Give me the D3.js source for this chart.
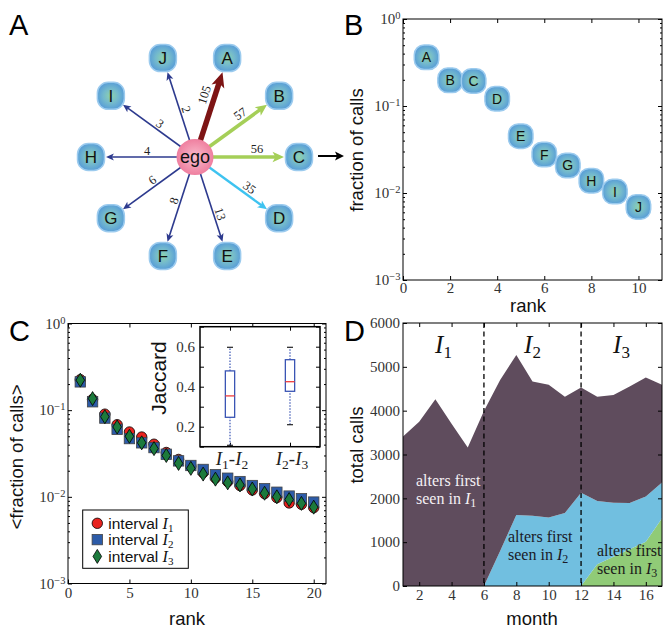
<!DOCTYPE html>
<html>
<head>
<meta charset="utf-8">
<script src="https://cdn.jsdelivr.net/npm/d3@7"></script>
<style>
body { margin: 0; background: #fff; }
svg { display: block; }
.ax .tick text { font-family: "Liberation Serif", serif; font-size: 15px; fill: #333; }
.ax .tick line { stroke: #000; }
.axlabel { font-family: "Liberation Sans", Arial, sans-serif; font-size: 18.5px; fill: #111; }
.panel { font-family: "Liberation Sans", Arial, sans-serif; font-size: 29px; fill: #000; }
</style>
</head>
<body>
<div id="fig"></div>
<script>
// ---- data ----
// panel A / B: alters of one ego, ranked by number of calls
var alters = ["A", "B", "C", "D", "E", "F", "G", "H", "I", "J"];
var alterCalls = [105, 57, 56, 35, 13, 8, 6, 4, 3, 2];

// panel C: mean fraction of calls by rank, three intervals
var ranks = d3.range(1, 21);
var fracI1 = [0.225, 0.133, 0.090, 0.068, 0.056, 0.049, 0.0405, 0.0325, 0.027, 0.0225,
              0.019, 0.0165, 0.015, 0.0135, 0.012, 0.0109, 0.0098, 0.0085, 0.0082, 0.0075];
var fracI2 = [0.212, 0.125, 0.081, 0.060, 0.047, 0.042, 0.037, 0.031, 0.026, 0.023,
              0.0207, 0.018, 0.0164, 0.015, 0.0135, 0.0124, 0.0113, 0.0102, 0.0095, 0.0087];
var fracI3 = [0.222, 0.136, 0.084, 0.064, 0.050, 0.042, 0.036, 0.030, 0.0243, 0.0213,
              0.0183, 0.016, 0.0145, 0.0137, 0.0123, 0.011, 0.010, 0.0093, 0.0084, 0.0076];

// inset: Jaccard box plots
var jacPairs = [["1", "2"], ["2", "3"]];
var jacLow = [0.107, 0.21];
var jacQ1 = [0.247, 0.377];
var jacMed = [0.354, 0.425];
var jacQ3 = [0.479, 0.535];
var jacHigh = [0.597, 0.597];

// panel D: monthly calls split by when the alter was first seen
var months = d3.range(1, 18);
var callsI1 = [3410, 3750, 4260, 3700, 3160, 3990, 3900, 3650, 3065, 3030, 2655, 2400, 2380, 2460, 2655, 2715, 2230];
var callsI2 = [0, 0, 0, 0, 0, 0, 800, 1620, 1600, 1560, 1665, 2130, 1445, 1230, 1055, 1030, 815];
var callsI3 = [0, 0, 0, 0, 0, 0, 0, 0, 0, 0, 0, 0, 495, 670, 840, 1010, 1545];
var intervalEdges = [1, 6, 12, 17];

// ---- figure ----
var W = 663, H = 629;
var svg = d3.select("#fig").append("svg").attr("width", W).attr("height", H);

var defs = svg.append("defs");
var ng = defs.append("radialGradient").attr("id", "nodeFill");
ng.append("stop").attr("offset", "0%").attr("stop-color", "#8fd3ac");
ng.append("stop").attr("offset", "55%").attr("stop-color", "#73b9cd");
ng.append("stop").attr("offset", "100%").attr("stop-color", "#5a9fd6");
var eg = defs.append("radialGradient").attr("id", "egoFill");
eg.append("stop").attr("offset", "0%").attr("stop-color", "#f9bccd");
eg.append("stop").attr("offset", "100%").attr("stop-color", "#ef7f9f");

var sans = '"Liberation Sans", Arial, sans-serif';
var serif = '"Liberation Serif", "Times New Roman", serif';

function panelLetter(t, x, y) {
  svg.append("text").attr("class", "panel").attr("x", x).attr("y", y).text(t);
}

// axes with inward ticks on all four sides
function drawAxes(xs, ys, o) {
  var xr = xs.range(), yr = ys.range();
  var g = svg.append("g");
  g.append("g").attr("class", "ax").attr("transform", "translate(0," + yr[0] + ")")
    .call(d3.axisBottom(xs).tickValues(o.xTicks).tickSizeInner(-4).tickSizeOuter(0)
      .tickPadding(o.xPad).tickFormat(o.xFmt || d3.format("d")));
  g.append("g").attr("class", "ax").attr("transform", "translate(0," + yr[1] + ")")
    .call(d3.axisTop(xs).tickValues(o.xTicks).tickSizeInner(-4).tickSizeOuter(0).tickFormat(""));
  var left = g.append("g").attr("class", "ax").attr("transform", "translate(" + xr[0] + ",0)")
    .call(d3.axisLeft(ys).tickValues(o.yTicks).tickSizeInner(-4).tickSizeOuter(0)
      .tickPadding(o.yPad).tickFormat(o.yFmt || d3.format("d")));
  g.append("g").attr("class", "ax").attr("transform", "translate(" + xr[1] + ",0)")
    .call(d3.axisRight(ys).tickValues(o.yTicks).tickSizeInner(-4).tickSizeOuter(0).tickFormat(""));
  if (o.yMinor) {
    g.append("g").attr("class", "ax").attr("transform", "translate(" + xr[0] + ",0)")
      .call(d3.axisLeft(ys).tickValues(o.yMinor).tickSizeInner(-2).tickSizeOuter(0).tickFormat(""));
    g.append("g").attr("class", "ax").attr("transform", "translate(" + xr[1] + ",0)")
      .call(d3.axisRight(ys).tickValues(o.yMinor).tickSizeInner(-2).tickSizeOuter(0).tickFormat(""));
  }
  g.selectAll(".domain").remove();
  if (o.log) {
    left.selectAll(".tick text").each(function(d) {
      var t = d3.select(this).text(null);
      t.append("tspan").text("10");
      t.append("tspan").attr("dy", "-0.5em").style("font-size", "10.5px")
        .text(String(Math.round(Math.log10(d))).replace("-", "\u2212"));
    });
  }
  g.append("rect").attr("x", xr[0]).attr("y", yr[1])
    .attr("width", xr[1] - xr[0]).attr("height", yr[0] - yr[1])
    .attr("fill", "none").attr("stroke", "#000").attr("stroke-width", 1);
  return g;
}

var logMajor = [1e-3, 1e-2, 1e-1, 1];
var logMinor = [];
[-3, -2, -1].forEach(function(k) { for (var m = 2; m < 10; m++) logMinor.push(m * Math.pow(10, k)); });

function rotLabel(t, x, y) {
  svg.append("text").attr("class", "axlabel").attr("text-anchor", "middle")
    .attr("transform", "translate(" + x + "," + y + ") rotate(-90)").text(t);
}

function altNode(g, x, y, s, name, fs) {
  g.append("rect").attr("x", x - s / 2).attr("y", y - s / 2).attr("width", s).attr("height", s)
    .attr("rx", s * 0.4).attr("fill", "url(#nodeFill)").attr("stroke", "#9ccbee").attr("stroke-width", 1.5);
  g.append("text").attr("x", x).attr("y", y).attr("dy", "0.36em").attr("text-anchor", "middle")
    .style("font-family", sans).style("font-size", fs + "px").attr("fill", "#111").text(name);
}

// ---------- panel A ----------
panelLetter("A", 9, 35);
var egoX = 195, egoY = 157, ring = 104;
var angle = d3.scaleLinear().domain([0, alters.length]).range([-72, 288]);
var edgeColor = d3.scaleThreshold().domain([30, 50, 100]).range(["#2d3a8e", "#3ec3f0", "#a5cf58", "#7d1414"]);
var edgeWidth = d3.scaleThreshold().domain([30, 50, 100]).range([1.6, 2.4, 3.6, 5.5]);

var gA = svg.append("g");
alters.forEach(function(name, i) {
  var a = angle(i) * Math.PI / 180, ux = Math.cos(a), uy = Math.sin(a);
  var w = edgeWidth(alterCalls[i]), col = edgeColor(alterCalls[i]);
  var tip = ring - 15, L = 5 + 1.8 * w, hw = 2.3 + 0.8 * w;
  var tx = egoX + ux * tip, ty = egoY + uy * tip;
  gA.append("line").attr("x1", egoX).attr("y1", egoY)
    .attr("x2", egoX + ux * (tip - L * 0.7)).attr("y2", egoY + uy * (tip - L * 0.7))
    .attr("stroke", col).attr("stroke-width", w);
  var bx0 = tx - ux * L, by0 = ty - uy * L;
  gA.append("path").attr("fill", col)
    .attr("d", "M" + tx + "," + ty +
      "L" + (bx0 - uy * hw) + "," + (by0 + ux * hw) +
      "L" + (tx - ux * L * 0.75) + "," + (ty - uy * L * 0.75) +
      "L" + (bx0 + uy * hw) + "," + (by0 - ux * hw) + "Z");
  // edge label, kept upright and placed above the line
  var deg = angle(i), flip = ux < -0.01;
  if (flip) deg += 180;
  var r = deg * Math.PI / 180, ax = Math.sin(r), ay = -Math.cos(r);
  var d = flip ? 48 : 62, off = 5 + w;
  var lx = egoX + ux * d + ax * off, ly = egoY + uy * d + ay * off;
  gA.append("text").attr("transform", "translate(" + lx + "," + ly + ") rotate(" + deg + ")")
    .attr("text-anchor", "middle").attr("dy", "0.35em")
    .style("font-family", serif).style("font-size", "12.5px").attr("fill", "#222")
    .text(alterCalls[i]);
  altNode(gA, egoX + ux * ring, egoY + uy * ring, 27, name, 17);
});
gA.append("ellipse").attr("cx", egoX).attr("cy", egoY).attr("rx", 18.5).attr("ry", 18)
  .attr("fill", "url(#egoFill)");
gA.append("text").attr("x", egoX).attr("y", egoY).attr("dy", "0.36em").attr("text-anchor", "middle")
  .style("font-family", sans).style("font-size", "18px").attr("fill", "#111").text("ego");

// arrow from A to B
svg.append("line").attr("x1", 318).attr("y1", 156).attr("x2", 337).attr("y2", 156)
  .attr("stroke", "#000").attr("stroke-width", 2);
svg.append("path").attr("d", "M344,156L335,151.5L337,156L335,160.5Z").attr("fill", "#000");

// ---------- panel B ----------
panelLetter("B", 344, 35);
var bX = d3.scaleLinear().domain([0, 11]).range([403, 662]);
var bY = d3.scaleLog().domain([1e-3, 1]).range([280, 19]);
drawAxes(bX, bY, { xTicks: [0, 2, 4, 6, 8, 10], yTicks: logMajor, yMinor: logMinor, log: true, xPad: 2, yPad: 2.5 });
var total = d3.sum(alterCalls);
var gB = svg.append("g");
alters.forEach(function(name, i) {
  altNode(gB, bX(i + 1), bY(alterCalls[i] / total), 24.5, name, 14);
});
rotLabel("fraction of calls", 363, 150);
svg.append("text").attr("class", "axlabel").attr("x", 528).attr("y", 312).attr("text-anchor", "middle").text("rank");

// ---------- panel C ----------
panelLetter("C", 9, 341);
var cX = d3.scaleLinear().domain([0, 21]).range([68, 326]);
var cY = d3.scaleLog().domain([1e-3, 1]).range([583.5, 323.5]);
drawAxes(cX, cY, { xTicks: [0, 5, 10, 15, 20], yTicks: logMajor, yMinor: logMinor, log: true, xPad: 3.5, yPad: 2.5 });

var red = "#e8231f", blue = "#2c5ba8", green = "#1c7a3c";
var gC = svg.append("g");
gC.selectAll(".c1").data(ranks).enter().append("circle")
  .attr("cx", function(d) { return cX(d); }).attr("cy", function(d, i) { return cY(fracI1[i]); })
  .attr("r", 5.2).attr("fill", red).attr("stroke", "#000").attr("stroke-width", 0.8);
gC.selectAll(".c2").data(ranks).enter().append("rect")
  .attr("x", function(d) { return cX(d) - 5.2; }).attr("y", function(d, i) { return cY(fracI2[i]) - 5.2; })
  .attr("width", 10.4).attr("height", 10.4).attr("fill", blue).attr("stroke", "#444").attr("stroke-width", 0.8);
var diamond = "M0,-7L4.3,0L0,7L-4.3,0Z";
gC.selectAll(".c3").data(ranks).enter().append("path")
  .attr("transform", function(d, i) { return "translate(" + cX(d) + "," + cY(fracI3[i]) + ")"; })
  .attr("d", diamond).attr("fill", green).attr("stroke", "#000").attr("stroke-width", 0.8);

// legend
var leg = svg.append("g");
leg.append("rect").attr("x", 82.7).attr("y", 510).attr("width", 105.6).attr("height", 58.3)
  .attr("fill", "#fff").attr("stroke", "#000").attr("stroke-width", 1);
var legY = [523.3, 539.6, 556.4];
leg.append("circle").attr("cx", 97.3).attr("cy", legY[0]).attr("r", 5.2).attr("fill", red).attr("stroke", "#000").attr("stroke-width", 0.8);
leg.append("rect").attr("x", 92.1).attr("y", legY[1] - 5.2).attr("width", 10.4).attr("height", 10.4).attr("fill", blue).attr("stroke", "#444").attr("stroke-width", 0.8);
leg.append("path").attr("transform", "translate(97.3," + legY[2] + ")").attr("d", diamond).attr("fill", green).attr("stroke", "#000").attr("stroke-width", 0.8);
["1", "2", "3"].forEach(function(s, i) {
  var t = leg.append("text").attr("x", 108.3).attr("y", legY[i] + 5.5)
    .style("font-family", sans).style("font-size", "15.5px").attr("fill", "#111");
  t.append("tspan").text("interval ");
  t.append("tspan").style("font-family", serif).style("font-style", "italic").style("font-size", "16px").text("I");
  t.append("tspan").attr("dy", "3").style("font-family", serif).style("font-size", "11px").text(s);
});

// inset
var iX = d3.scaleLinear().domain([0.5, 2.5]).range([200, 320]);
var iY = d3.scaleLinear().domain([0.1, 0.7]).range([446.7, 326.7]);
svg.append("rect").attr("x", 200).attr("y", 326.7).attr("width", 120).attr("height", 120).attr("fill", "#fff");
drawAxes(iX, iY, { xTicks: [1, 2], yTicks: [0.1, 0.2, 0.3, 0.4, 0.5, 0.6, 0.7], xPad: 3, yPad: 5,
  xFmt: function() { return ""; },
  yFmt: function(d) { return [0.2, 0.4, 0.6].indexOf(Math.round(d * 10) / 10) >= 0 ? d3.format(".1f")(d) : ""; } })
  .select("rect").attr("stroke-width", 1.5);
var gI = svg.append("g");
jacPairs.forEach(function(p, i) {
  var x = iX(i + 1), bw = 9.3;
  gI.append("line").attr("x1", x).attr("x2", x).attr("y1", iY(jacLow[i])).attr("y2", iY(jacQ1[i]))
    .attr("stroke", "#3a55b4").attr("stroke-dasharray", "1.5,1.5").attr("stroke-width", 1.2);
  gI.append("line").attr("x1", x).attr("x2", x).attr("y1", iY(jacQ3[i])).attr("y2", iY(jacHigh[i]))
    .attr("stroke", "#3a55b4").attr("stroke-dasharray", "1.5,1.5").attr("stroke-width", 1.2);
  [jacLow[i], jacHigh[i]].forEach(function(v) {
    gI.append("line").attr("x1", x - 3).attr("x2", x + 3).attr("y1", iY(v)).attr("y2", iY(v))
      .attr("stroke", "#222").attr("stroke-width", 1.2);
  });
  gI.append("rect").attr("x", x - bw / 2).attr("width", bw).attr("y", iY(jacQ3[i]))
    .attr("height", iY(jacQ1[i]) - iY(jacQ3[i])).attr("fill", "none").attr("stroke", "#3a55b4").attr("stroke-width", 1.3);
  gI.append("line").attr("x1", x - bw / 2).attr("x2", x + bw / 2).attr("y1", iY(jacMed[i])).attr("y2", iY(jacMed[i]))
    .attr("stroke", "#f03c3c").attr("stroke-width", 1.3);
  var t = gI.append("text").attr("x", x + 2).attr("y", 465).attr("text-anchor", "middle")
    .style("font-family", serif).style("font-size", "19px").attr("fill", "#222");
  t.append("tspan").style("font-style", "italic").text("I");
  t.append("tspan").attr("dy", "4").style("font-size", "13.5px").text(p[0]);
  t.append("tspan").attr("dy", "-4").text("-");
  t.append("tspan").style("font-style", "italic").text("I");
  t.append("tspan").attr("dy", "4").style("font-size", "13.5px").text(p[1]);
});
svg.append("text").attr("class", "axlabel").style("font-size", "21px").attr("text-anchor", "middle")
  .attr("transform", "translate(166,378) rotate(-90)").text("Jaccard");

rotLabel("<fraction of calls>", 23, 457);
svg.append("text").attr("class", "axlabel").attr("x", 187).attr("y", 625).attr("text-anchor", "middle").text("rank");

// ---------- panel D ----------
panelLetter("D", 344, 341);
var dX = d3.scaleLinear().domain([1, 17]).range([403, 662]);
var dY = d3.scaleLinear().domain([0, 6000]).range([586, 323]);
var rows = months.map(function(m, i) { return { month: m, I1: callsI1[i], I2: callsI2[i], I3: callsI3[i] }; });
var layers = d3.stack().keys(["I3", "I2", "I1"])(rows);
var layerColor = { I1: "#5f4c5d", I2: "#71bfe0", I3: "#90cb77" };
var area = d3.area().x(function(d) { return dX(d.data.month); })
  .y0(function(d) { return dY(d[0]); }).y1(function(d) { return dY(d[1]); });
svg.append("g").selectAll("path").data(layers).enter().append("path")
  .attr("d", area).attr("fill", function(d) { return layerColor[d.key]; });

svg.append("g").selectAll("line").data(intervalEdges.slice(1, 3)).enter().append("line")
  .attr("x1", function(d) { return dX(d); }).attr("x2", function(d) { return dX(d); })
  .attr("y1", 323).attr("y2", 586).attr("stroke", "#000").attr("stroke-width", 1.3).attr("stroke-dasharray", "5,3.5");

drawAxes(dX, dY, { xTicks: [2, 4, 6, 8, 10, 12, 14, 16], yTicks: d3.range(0, 6001, 1000), xPad: 3, yPad: 3 });

["1", "2", "3"].forEach(function(s, i) {
  var t = svg.append("text").attr("x", dX((intervalEdges[i] + intervalEdges[i + 1]) / 2)).attr("y", 353)
    .attr("text-anchor", "middle").style("font-family", serif).style("font-size", "25px").attr("fill", "#111");
  t.append("tspan").style("font-style", "italic").text("I");
  t.append("tspan").attr("dy", "5").style("font-size", "17px").text(s);
});

function altersText(x, y, s, col) {
  var g = svg.append("g").style("font-family", serif).style("font-size", "16px").attr("fill", col);
  g.append("text").attr("x", x).attr("y", y).text("alters first");
  var t = g.append("text").attr("x", x).attr("y", y + 17.5);
  t.append("tspan").text("seen in ");
  t.append("tspan").style("font-style", "italic").text("I");
  t.append("tspan").attr("dy", "3.5").style("font-size", "12px").text(s);
}
altersText(416, 486, "1", "#f4f0f4");
altersText(508, 542, "2", "#1a1a28");
altersText(597, 556, "3", "#1a1a1a");

rotLabel("total calls", 363, 445);
svg.append("text").attr("class", "axlabel").attr("x", 532).attr("y", 625).attr("text-anchor", "middle").text("month");
</script>
</body>
</html>
